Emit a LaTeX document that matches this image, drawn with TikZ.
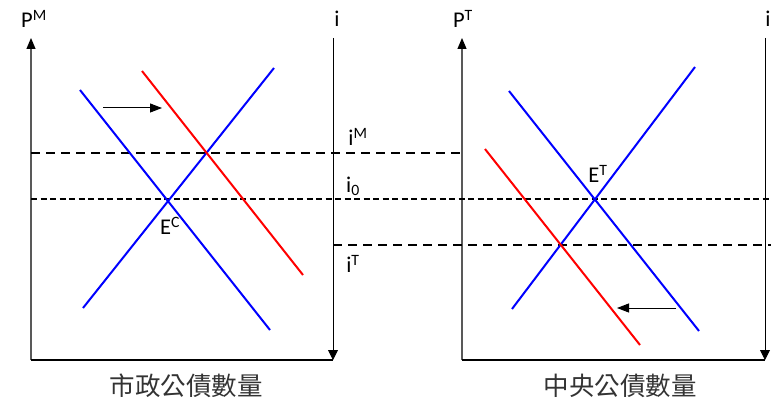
\documentclass[tikz,border=0pt]{standalone}
\usepackage{fontspec}
\setmainfont{Carlito}
\newfontfamily\cjkfont{Noto Sans CJK TC}
\usepackage{tikz}
\usetikzlibrary{arrows.meta,positioning,calc}

\begin{document}
\begin{tikzpicture}[x=1pt, y=-1pt,
    axis/.style={draw, line width=1.2pt, -{Triangle[length=11pt,width=9pt,color=black]}},
    rateaxis/.style={draw, line width=0.9pt, -{Triangle[length=10pt,width=10pt]}},
    frame/.style={draw, line width=1.1pt},
    curve/.style={line width=2pt},
    level/.style={draw, line width=1.6pt, dash pattern=on 9pt off 6pt},
    midlevel/.style={draw, line width=1.3pt, dash pattern=on 6pt off 3.5pt},
    moveline/.style={draw, line width=1pt, -{Triangle[length=12pt,width=9pt]}},
    lbl/.style={font=\fontsize{22.5}{24}\selectfont, inner sep=0pt},
    qty/.style={font=\cjkfont\fontsize{25.5}{27}\selectfont, text=black!80, inner sep=0pt}]
    \useasboundingbox (0,0) rectangle (771,401);

    % left panel: municipal bonds
    \coordinate (oM) at (31,360);
    \coordinate (topM) at (31,38);
    \coordinate (iM0) at (333,38);
    \coordinate (iM1) at (333,360);
    \draw [axis, black!65] (oM) -- (topM);
    \draw [frame] (oM) -- (iM1);
    \draw [rateaxis] (iM0) -- (iM1);
    \node [lbl] (pm) at (34,19) {P\textsuperscript{M}};
    \node [lbl] (im) at (337,19) {i};

    % right panel: treasury bonds
    \coordinate (oT) at (462,360);
    \coordinate (topT) at (462,38);
    \coordinate (iT0) at (765,38);
    \coordinate (iT1) at (765,360);
    \draw [axis, black!65] (oT) -- (topT);
    \draw [frame] (oT) -- (iT1);
    \draw [rateaxis] (iT0) -- (iT1);
    \node [lbl] (pt) at (463,19) {P\textsuperscript{T}};
    \node [lbl] (it) at (768,19) {i};

    % interest-rate levels
    \draw [level] (31,153) -- (462,153);
    \draw [midlevel] (31,199) -- (771,199);
    \draw [level] (333,245) -- (771,245);
    \node [lbl] (rM) at (358,137) {i\textsuperscript{M}};
    \node [lbl] (r0) at (353,186) {i\textsubscript{0}};
    \node [lbl] (rT) at (353,264) {i\textsuperscript{T}};

    % supply and demand, left
    \draw [curve, blue] (80,90) -- (270,330);
    \draw [curve, blue] (83,308) -- (274,68);
    \draw [curve, red] (142,71) -- (303,275);
    \draw [moveline] (103,108) -- (162,108);
    \node [lbl] (ec) at (170,226) {E\textsuperscript{C}};

    % supply and demand, right
    \draw [curve, blue] (509,91) -- (699,331);
    \draw [curve, blue] (512,309) -- (695,67);
    \draw [curve, red] (485,149) -- (640,345);
    \draw [moveline] (676,308) -- (617,308);
    \node [lbl] (et) at (598,174) {E\textsuperscript{T}};

    % quantities
    \node [qty] (qM) at (186,386) {市政公債數量};
    \node [qty] (qT) at (620,386) {中央公債數量};
\end{tikzpicture}
\end{document}
